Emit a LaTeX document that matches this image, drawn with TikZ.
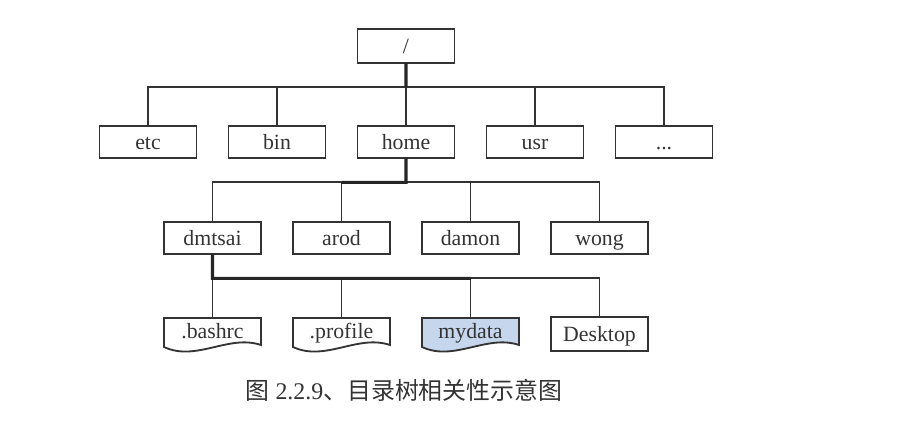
\documentclass[tikz,border=0pt]{standalone}
\usepackage{fontspec}
\setmainfont{Liberation Serif}
\newfontfamily\cjk{Noto Sans CJK SC}
\usepackage{tikz}
\usetikzlibrary{positioning, calc, backgrounds}
\definecolor{treeline}{HTML}{333333}
\definecolor{treetext}{HTML}{333333}
\definecolor{selbg}{HTML}{C6D6EC}
\tikzset{
  dirbox/.style={draw=treeline, line width=1.3pt, minimum width=2.425cm,
                 minimum height=0.8cm, inner sep=2pt, outer sep=0pt,
                 text height=0.4cm, text depth=0.05cm, text=treetext,
                 font=\fontsize{15.5}{18}\selectfont},
  filebox/.style={minimum width=2.425cm, minimum height=0.8cm, inner sep=2pt,
                  outer sep=0pt, text height=0.4cm, text depth=0.2cm,
                  text=treetext, font=\fontsize{15.5}{18}\selectfont},
  fileline/.style={draw=treeline, line width=1.3pt},
  link/.style={treeline, line width=1.3pt},
  mainlink/.style={black!85, line width=2.2pt},
}
% document outline: flat top, wavy bottom
\newcommand\docoutline[2][]{%
  \draw[fileline, #1] (#2.north west) -- (#2.north east)
    -- ($(#2.south east)+(0,0.125)$)
    .. controls ($(#2.south west)!0.667!(#2.south east)+(0,0.4)$)
       and ($(#2.south west)!0.333!(#2.south east)+(0,-0.3)$)
    .. ($(#2.south west)+(0,0.075)$) -- cycle;}

\begin{document}
\begin{tikzpicture}[node distance=1.6cm and 0.8cm]
  \useasboundingbox (0,0) rectangle (23.1,-10.7);

  %% ── Root and first level ─────────────────────────────────────────────
  \node[dirbox, minimum height=0.85cm] (root) at (10.15,-1.15) {/};

  \node[dirbox, below=1.575cm of root] (home) {home};
  \node[dirbox, left=of home]  (bin)  {bin};
  \node[dirbox, left=of bin]   (etc)  {etc};
  \node[dirbox, right=of home] (usr)  {usr};
  \node[dirbox, right=of usr]  (more) {...};

  %% ── Home directories ─────────────────────────────────────────────────
  \node[dirbox, below=of home, xshift=-4.8375cm] (dmtsai) {dmtsai};
  \node[dirbox, right=of dmtsai] (arod)  {arod};
  \node[dirbox, right=of arod]   (damon) {damon};
  \node[dirbox, right=of damon]  (wong)  {wong};

  %% ── Files of dmtsai ──────────────────────────────────────────────────
  \node[filebox, below=of dmtsai] (bashrc)  {.bashrc};
  \node[filebox, right=of bashrc] (profile) {.profile};
  \node[filebox, right=of profile] (mydata) {mydata};
  \node[dirbox, minimum height=0.85cm, right=of mydata] (desktop) {Desktop};

  \begin{scope}[on background layer]
    \docoutline{bashrc}
    \docoutline{profile}
    \docoutline[fill=selbg]{mydata}
  \end{scope}

  %% ── Connectors ───────────────────────────────────────────────────────
  \coordinate (bus1) at ($(root.south)!0.38!(home.north)$);
  \coordinate (bus2) at ($(home.south)!0.38!(home.south |- dmtsai.north)$);
  \coordinate (bus3) at ($(dmtsai.south)!0.38!(dmtsai.south |- bashrc.north)$);

  \foreach \n in {etc, bin, home, usr, more}
    \draw[link] (\n.north) |- (bus1);
  \foreach \n in {dmtsai, arod, damon, wong}
    \draw[link] (\n.north) |- (bus2);
  \foreach \n in {bashrc, profile, mydata, desktop}
    \draw[link] (\n.north) |- (bus3);

  % path from / down to mydata
  \draw[mainlink] (root.south) -- (bus1);
  \draw[mainlink] (home.south) -- (bus2) -- (bus2 -| arod.north);
  \draw[mainlink] (dmtsai.south) -- (bus3) -- (bus3 -| mydata.north);

  %% ── Caption ──────────────────────────────────────────────────────────
  \node[font=\fontsize{17}{20}\selectfont, text=treetext] (caption)
    at (10.1,-9.75) {{\cjk 图} 2.2.9{\cjk 、目录树相关性示意图}};
\end{tikzpicture}
\end{document}
